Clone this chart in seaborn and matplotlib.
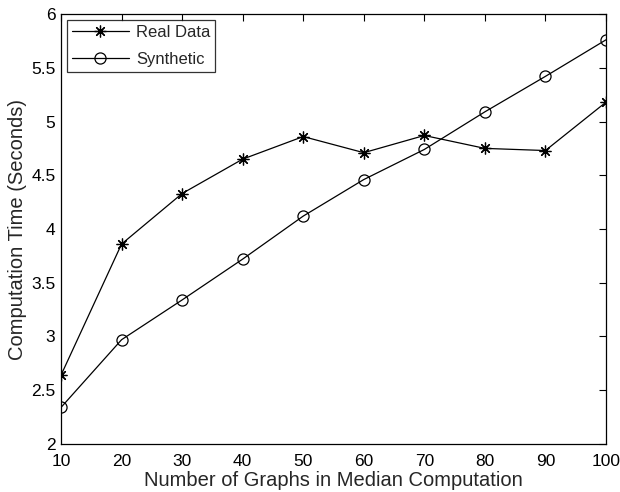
import matplotlib
matplotlib.use("Agg")
import matplotlib.pyplot as plt
import seaborn as sns
import pandas as pd

graphs = [10, 20, 30, 40, 50, 60, 70, 80, 90, 100]
real_data = [2.64, 3.86, 4.33, 4.65, 4.86, 4.71, 4.87, 4.75, 4.73, 5.18]
synthetic = [2.34, 2.97, 3.34, 3.72, 4.12, 4.46, 4.74, 5.09, 5.42, 5.76]
x_ticks = [10, 20, 30, 40, 50, 60, 70, 80, 90, 100]
y_ticks = [2, 2.5, 3, 3.5, 4, 4.5, 5, 5.5, 6]
y_tick_labels = ["2", "2.5", "3", "3.5", "4", "4.5", "5", "5.5", "6"]

sns.set_style("white")
plt.rcParams["font.family"] = ["Liberation Sans", "DejaVu Sans"]

df = pd.DataFrame({
    "graphs": graphs * 2,
    "time": real_data + synthetic,
    "series": ["Real Data"] * len(graphs) + ["Synthetic"] * len(graphs),
})

fig = plt.figure(figsize=(6.2, 4.92), dpi=100)
ax = fig.add_axes([0.0984, 0.0976, 0.8790, 0.8739])

sns.lineplot(data=df[df.series == "Real Data"], x="graphs", y="time", ax=ax,
             color="black", lw=0.9, marker=(8, 2, 0), markersize=8.5,
             markeredgewidth=0.9, markeredgecolor="black", label="Real Data")
sns.lineplot(data=df[df.series == "Synthetic"], x="graphs", y="time", ax=ax,
             color="black", lw=0.9, marker="o", markersize=8,
             markerfacecolor="none", markeredgewidth=0.9,
             markeredgecolor="black", label="Synthetic")

ax.set_xlim(10, 100)
ax.set_ylim(2, 6)
ax.set_xticks(x_ticks)
ax.set_yticks(y_ticks)
ax.set_yticklabels(y_tick_labels)
ax.tick_params(axis="both", direction="in", length=5, width=0.8,
               labelsize=12.5, top=True, right=True, colors="black")
ax.tick_params(axis="x", pad=7)
ax.tick_params(axis="y", pad=4)
for s in ax.spines.values():
    s.set_visible(True)
    s.set_color("black")
    s.set_linewidth(0.9)

ax.set_xlabel("Number of Graphs in Median Computation", fontsize=14.5, labelpad=2)
ax.set_ylabel("Computation Time (Seconds)", fontsize=14.5, labelpad=3)

leg = ax.legend(loc="upper left", fontsize=12, handlelength=3.4, frameon=True,
                fancybox=False, borderaxespad=0.35, borderpad=0.3,
                labelspacing=0.7, handletextpad=0.45)
leg.get_frame().set_edgecolor("black")
leg.get_frame().set_linewidth(0.9)

fig.savefig("out.png", dpi=100)
